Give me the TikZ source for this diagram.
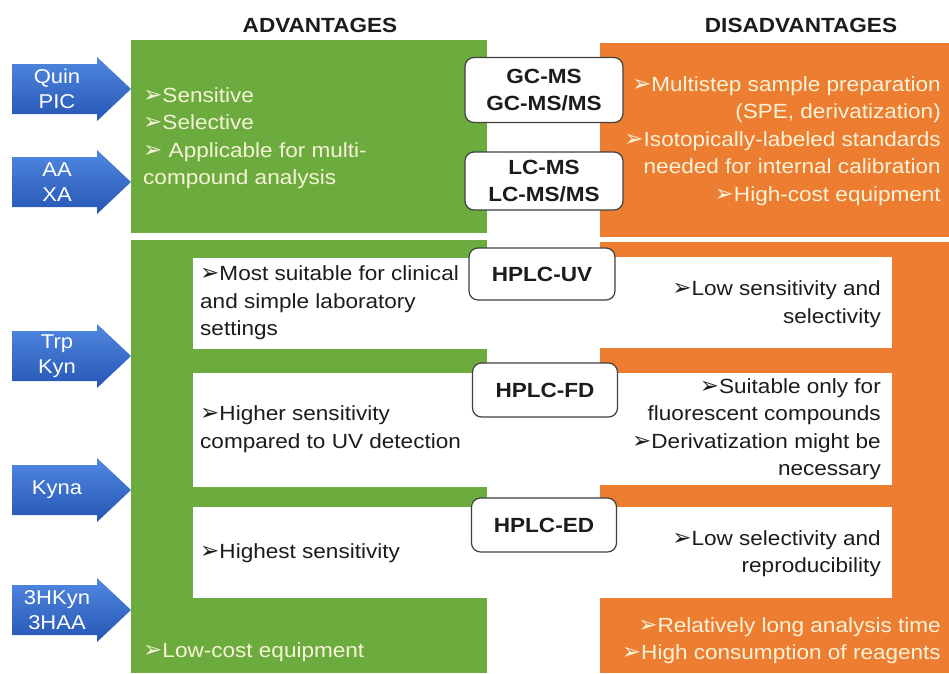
\documentclass[tikz,border=0pt]{standalone}
\usepackage{fontspec}
\setmainfont{Liberation Sans}[FakeStretch=1.1]
\newfontfamily\dingfont{DejaVu Sans}
\newcommand{\bul}{{\dingfont\bfseries\fontsize{23}{27.5}\selectfont ➢}}
\definecolor{advgreen}{RGB}{108,172,62}
\definecolor{disorange}{RGB}{237,125,49}
\definecolor{arrowtop}{RGB}{80,136,224}
\definecolor{arrowbot}{RGB}{38,86,180}
\definecolor{cream}{RGB}{247,243,216}
\definecolor{ink}{RGB}{28,28,28}
\tikzset{
  adv/.style={fill=advgreen},
  dis/.style={fill=disorange},
  card/.style={fill=white},
  lighttxt/.style={text=cream, inner sep=0pt, font=\fontsize{20.5}{27.5}\selectfont},
  darktxt/.style={text=ink, inner sep=0pt, font=\fontsize{20.5}{27.5}\selectfont},
  headtxt/.style={text=ink, inner sep=0pt, font=\bfseries\fontsize{20.5}{24}\selectfont},
  method/.style={draw=black!75, line width=1.2pt, fill=white, rounded corners=9pt,
    align=center, text=ink, font=\bfseries\fontsize{20.5}{27}\selectfont},
  inarrow/.style={top color=arrowtop, bottom color=arrowbot},
  arrowtxt/.style={text=white, align=center, inner sep=0pt, font=\fontsize{20}{25}\selectfont}
}
\begin{document}
\begin{tikzpicture}[x=1pt,y=-1pt]
\useasboundingbox (0,0) rectangle (949,673);
\fill[white] (0,0) rectangle (949,673);

% column headings
\node[headtxt] (adv-head) at (320,25) {ADVANTAGES};
\node[headtxt] (dis-head) at (801,25) {DISADVANTAGES};

% mass spectrometry row
\fill[adv] (131,40) rectangle (487,233);
\fill[dis] (600,43) rectangle (949,237);
\node[lighttxt, anchor=west, align=left] (adv-ms) at (143,138)
  {\bul Sensitive\\\bul Selective\\\bul\ Applicable for multi-\\compound analysis};
\node[lighttxt, anchor=east, align=right] (dis-ms) at (941,141)
  {\bul Multistep sample preparation\\(SPE, derivatization)\\\bul Isotopically-labeled standards\\needed for internal calibration\\\bul High-cost equipment};

% HPLC rows
\fill[adv] (131,240) rectangle (487,673);
\fill[dis] (600,242) rectangle (949,673);
\fill[card] (193,258) rectangle (487,349);
\fill[card] (193,373) rectangle (487,487);
\fill[card] (193,507) rectangle (487,598);
\fill[card] (600,257) rectangle (892,348);
\fill[card] (600,373) rectangle (892,485);
\fill[card] (600,507) rectangle (892,598);

\node[darktxt, anchor=west, align=left] (adv-uv) at (200,303)
  {\bul Most suitable for clinical\\and simple laboratory\\settings};
\node[darktxt, anchor=west, align=left] (adv-fd) at (200,429)
  {\bul Higher sensitivity\\compared to UV detection};
\node[darktxt, anchor=west, align=left] (adv-ed) at (200,553)
  {\bul Highest sensitivity};
\node[darktxt, anchor=east, align=right] (dis-uv) at (881,304)
  {\bul Low sensitivity and\\selectivity};
\node[darktxt, anchor=east, align=right] (dis-fd) at (881,429)
  {\bul Suitable only for\\fluorescent compounds\\\bul Derivatization might be\\necessary};
\node[darktxt, anchor=east, align=right] (dis-ed) at (881,553.5)
  {\bul Low selectivity and\\reproducibility};
\node[lighttxt, anchor=west, align=left] (adv-hplc) at (143,652)
  {\bul Low-cost equipment};
\node[lighttxt, anchor=east, align=right] (dis-hplc) at (941,640.5)
  {\bul Relatively long analysis time\\\bul High consumption of reagents};

% methods
\node[method, minimum width=158pt, minimum height=65pt] (gcms) at (544,90) {GC-MS\\GC-MS/MS};
\node[method, minimum width=158pt, minimum height=58pt] (lcms) at (544,181) {LC-MS\\LC-MS/MS};
\node[method, minimum width=146pt, minimum height=52pt] (uv) at (542,274) {HPLC-UV};
\node[method, minimum width=145pt, minimum height=54pt] (fd) at (545,390) {HPLC-FD};
\node[method, minimum width=145pt, minimum height=54pt] (ed) at (544,525) {HPLC-ED};

% analytes
\foreach \y/\lab in {89/{Quin\\PIC}, 182/{AA\\XA}, 356/{Trp\\Kyn}, 490/{Kyna}, 610/{3HKyn\\3HAA}} {
  \shade[inarrow] (12,\y-25) -- (97,\y-25) -- (97,\y-32) -- (131,\y)
    -- (97,\y+32) -- (97,\y+25) -- (12,\y+25) -- cycle;
  \node[arrowtxt] (src-\y) at (57,\y) {\lab};
}
\end{tikzpicture}
\end{document}
